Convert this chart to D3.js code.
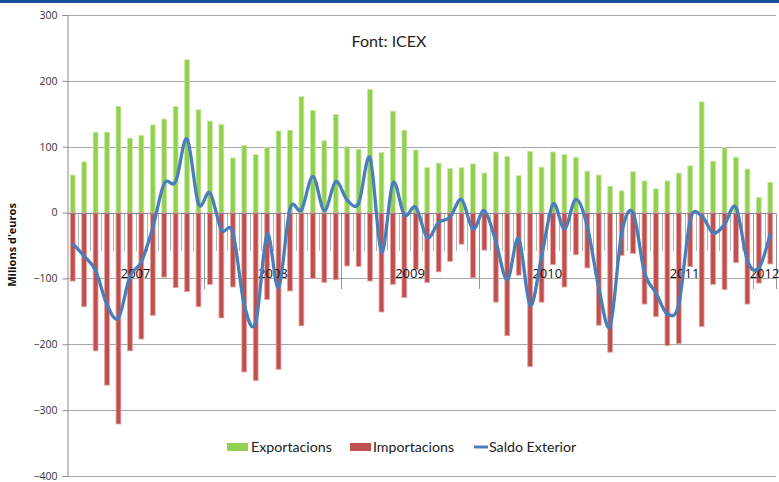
<!DOCTYPE html>
<html>
<head>
<meta charset="utf-8">
<script src="https://cdn.jsdelivr.net/npm/d3@7"></script>
<style>
  html, body { margin: 0; padding: 0; background: #fff; }
  svg { display: block; }
</style>
</head>
<body>
<svg id="chart" width="779" height="482"></svg>
<script>
// ---- Data (monthly, Jan 2007 – Feb 2012), millions of euros ----
const months = d3.range(62); // category index
const exportacions = [57,77,122,122,161,113,117,133,142,161,232,156,
  139,134,83,102,88,99,124,125,176,155,109,149,
  100,96,187,91,154,125,95,68,75,67,68,74,
  60,92,85,56,93,69,92,88,84,63,57,40,
  33,62,48,36,48,60,71,168,78,99,84,66,
  23,46];
const importacions = [-104,-143,-210,-262,-321,-210,-192,-156,-98,-114,-120,-143,
  -109,-160,-113,-242,-255,-132,-238,-119,-172,-100,-106,-102,
  -81,-82,-104,-151,-109,-129,-87,-106,-90,-74,-48,-99,
  -57,-136,-187,-95,-234,-136,-79,-113,-64,-84,-171,-212,
  -65,-62,-139,-158,-202,-199,-82,-173,-109,-117,-76,-139,
  -107,-78];
const saldoExterior = [-47,-66,-88,-140,-160,-97,-75,-23,44,47,112,13,
  30,-26,-30,-140,-167,-33,-114,6,4,55,3,47,
  19,14,83,-60,45,-4,8,-38,-15,-7,20,-25,
  3,-44,-102,-39,-141,-67,13,-25,20,-21,-114,-172,
  -32,0,-91,-122,-154,-139,-11,-5,-31,-18,8,-73,
  -84,-32];
const yearLabels = ["2007","2008","2009","2010","2011","2012"];
const yearStart = [0,12,24,36,48,60];
const yearEnd = [12,24,36,48,60,62];
const yTicks = [300,200,100,0,-100,-200,-300,-400];
const legendLabels = ["Exportacions","Importacions","Saldo Exterior"];

// ---- Layout ----
const svg = d3.select("#chart");
const pLeft = 67, pRight = 776, pTop = 15, pBottom = 476;
const colors = { exp: "#92d050", expEdge: "#c6e8a4", imp: "#c0504d", impEdge: "#e3a3a1", line: "#4a7ebb", grid: "#a6a6a6" };

const x = d3.scaleBand().domain(months).range([pLeft, pRight]).padding(0);
const y = d3.scaleLinear().domain([-400, 300]).range([pBottom, pTop]);

// top blue band
svg.append("rect").attr("x", 0).attr("y", 0).attr("width", 779).attr("height", 3).attr("fill", "#1a4f9c");

// gridlines
svg.append("g").selectAll("line").data(yTicks.filter(d => d !== 0)).join("line")
  .attr("x1", pLeft).attr("x2", pRight)
  .attr("y1", d => Math.round(y(d)) + 0.5).attr("y2", d => Math.round(y(d)) + 0.5)
  .attr("stroke", colors.grid).attr("stroke-width", 1);

// y axis
const yAxis = d3.axisLeft(y).tickValues(yTicks).tickSize(5).tickPadding(5).tickFormat(d3.format("d"));
const gy = svg.append("g").attr("transform", `translate(${pLeft + 0.5},0)`).call(yAxis);
gy.select(".domain").attr("stroke", "#8c8c8c");
gy.selectAll(".tick line").attr("stroke", "#8c8c8c");
gy.selectAll(".tick text").attr("font-family", "'Open Sans', sans-serif").attr("font-size", "10.5px").attr("fill", "#333");

// bars
const bw = 4.8;
svg.append("g").selectAll("rect").data(exportacions).join("rect")
  .attr("x", (d, i) => x(i) + x.bandwidth() / 2 - bw / 2)
  .attr("width", bw)
  .attr("y", d => y(d))
  .attr("height", d => y(0) - y(d))
  .attr("fill", colors.exp).attr("stroke", colors.expEdge).attr("stroke-width", 0.8);
svg.append("g").selectAll("rect").data(importacions).join("rect")
  .attr("x", (d, i) => x(i) + x.bandwidth() / 2 - bw / 2)
  .attr("width", bw)
  .attr("y", y(0))
  .attr("height", d => y(d) - y(0))
  .attr("fill", colors.imp).attr("stroke", colors.impEdge).attr("stroke-width", 0.8);

// x axis at zero with category ticks
const y0 = Math.round(y(0)) + 0.5;
const longTicks = new Set(yearEnd);
const boundaries = d3.range(1, 63);
svg.append("g").selectAll("line").data(boundaries).join("line")
  .attr("x1", i => Math.round(pLeft + i * x.bandwidth()) + 0.5)
  .attr("x2", i => Math.round(pLeft + i * x.bandwidth()) + 0.5)
  .attr("y1", y0)
  .attr("y2", i => longTicks.has(i) ? 289 : 251)
  .attr("stroke", i => longTicks.has(i) ? "#999" : "#b5b5b5").attr("stroke-width", 1);
svg.append("line").attr("x1", pLeft).attr("x2", pRight).attr("y1", y0).attr("y2", y0)
  .attr("stroke", "#8c8c8c").attr("stroke-width", 1);

// year labels
svg.append("g").selectAll("text").data(yearLabels).join("text")
  .attr("x", (d, i) => pLeft + (yearStart[i] + yearEnd[i]) / 2 * x.bandwidth())
  .attr("y", 278)
  .attr("text-anchor", "middle")
  .attr("font-family", "'Open Sans', sans-serif").attr("font-size", "13px").attr("fill", "#111")
  .text(d => d);

// saldo line
const line = d3.line()
  .x((d, i) => x(i) + x.bandwidth() / 2)
  .y(d => y(d))
  .curve(d3.curveCatmullRom.alpha(0));
svg.append("path").datum(saldoExterior)
  .attr("d", line).attr("fill", "none")
  .attr("stroke", colors.line).attr("stroke-width", 3.3).attr("stroke-linejoin", "round");

// title
svg.append("text").attr("x", 389).attr("y", 47).attr("text-anchor", "middle")
  .attr("font-family", "Lato, sans-serif").attr("font-size", "16px").attr("fill", "#222")
  .text("Font: ICEX");

// y axis title
svg.append("text").attr("transform", "translate(16,245) rotate(-90)")
  .attr("text-anchor", "middle")
  .attr("font-family", "'Open Sans', sans-serif").attr("font-size", "11px").attr("font-weight", "bold").attr("fill", "#111")
  .text("Milions d'euros");

// legend
const lg = svg.append("g").attr("font-family", "Lato, sans-serif").attr("font-size", "14.2px").attr("fill", "#222");
const legendX = [227, 350, 474];
lg.append("rect").attr("x", legendX[0]).attr("y", 443).attr("width", 21).attr("height", 8).attr("fill", colors.exp);
lg.append("rect").attr("x", legendX[1]).attr("y", 443).attr("width", 21).attr("height", 8).attr("fill", colors.imp);
lg.append("line").attr("x1", legendX[2]).attr("x2", legendX[2] + 14).attr("y1", 447).attr("y2", 447)
  .attr("stroke", colors.line).attr("stroke-width", 3);
const textX = [251, 373, 489];
lg.selectAll("text").data(legendLabels).join("text")
  .attr("x", (d, i) => textX[i]).attr("y", 452)
  .text(d => d);
</script>
</body>
</html>
